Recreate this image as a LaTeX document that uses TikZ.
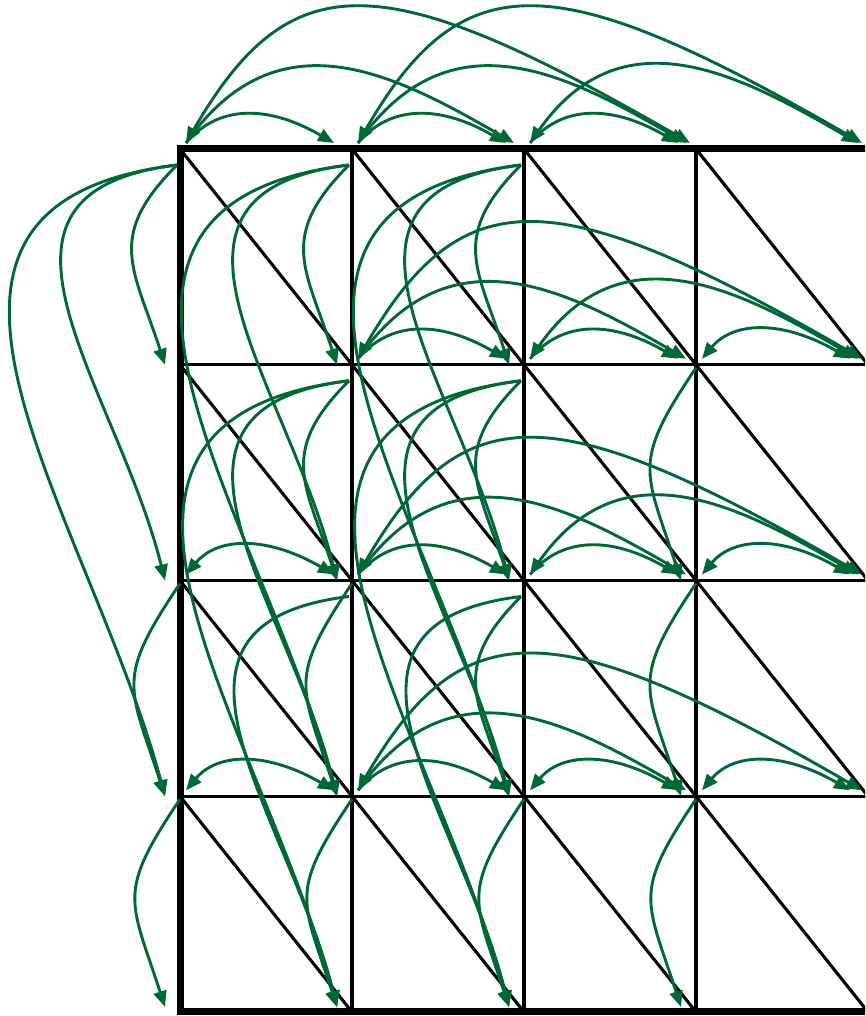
\documentclass[tikz,border=0pt]{standalone}
\usetikzlibrary{arrows.meta}
\definecolor{arrgreen}{RGB}{0,104,55}
\begin{document}
\begin{tikzpicture}[x=1pt,y=1pt,
  gridline/.style={line width=3.1pt, black},
  frameline/.style={line width=7pt, black, line join=miter},
  link/.style={draw=arrgreen, line width=2.9pt, -{Triangle[length=16pt,width=13pt]}},
  twoway/.style={link, {Triangle[length=16pt,width=13pt]}-{Triangle[length=16pt,width=13pt]}},
  hs/.style={out=50,in=150,out looseness=0.85,in looseness=1.35},
  hm/.style={out=55,in=150,out looseness=1.25,in looseness=1.08},
  hl/.style={out=60,in=150,out looseness=1.07,in looseness=1.8},
  vs/.style={out=225,in=108,looseness=1.3},
  vo/.style={out=236,in=108,looseness=1.4},
  vm/.style={out=187,in=104,out looseness=1.4,in looseness=1.25},
  vl/.style={out=187,in=105,out looseness=1.33,in looseness=1.2}]

\path[use as bounding box, clip] (0,0) rectangle (865,1016);

% grid vertices and arrow anchor points
\foreach \c in {0,...,4}{
  \foreach \r in {0,...,4}{
    \coordinate (v-\c-\r) at ({180+172*\c},{867-215.75*\r});
    \coordinate (hs-\c-\r) at ({186+172*\c},{873-215.75*\r});
    \coordinate (hea-\c-\r) at ({162+172*\c},{873-215.75*\r});
    \coordinate (heb-\c-\r) at ({170+172*\c},{873-215.75*\r});
    \coordinate (hec-\c-\r) at ({174+172*\c},{873-215.75*\r});
    \coordinate (vs-\c-\r) at ({177+172*\c},{851-215.75*\r});
    \coordinate (vo-\c-\r) at ({180+172*\c},{864-215.75*\r});
    \coordinate (ve-\c-\r) at ({165+172*\c},{867-215.75*\r});
  }
}
\foreach \c in {0,...,4}{
  \coordinate (ve-\c-4) at ({165+172*\c},{9});
}

% grid
\foreach \r in {1,2,3} \draw[gridline] (v-0-\r) -- (v-4-\r);
\foreach \c in {1,2,3,4} \draw[gridline] (v-\c-0) -- (v-\c-4);
\foreach \c [evaluate=\c as \cn using int(\c+1)] in {0,...,3}{
  \foreach \r [evaluate=\r as \rn using int(\r+1)] in {0,...,3}{
    \draw[gridline] (v-\c-\r) -- (v-\cn-\rn);
  }
}
\draw[frameline] (v-4-0) -- (v-0-0) -- (v-0-4) -- (v-4-4);

% horizontal links, row 0
\draw[link,hs] (hs-0-0) to (hea-1-0);
\draw[link,hm] (hs-0-0) to (heb-2-0);
\draw[twoway,hl] (hs-0-0) to (hec-3-0);
\draw[link,hs] (hs-1-0) to (hea-2-0);
\draw[link,hm] (hs-1-0) to (heb-3-0);
\draw[twoway,hl] (hs-1-0) to (hec-4-0);
\draw[link,hs] (hs-2-0) to (hea-3-0);
\draw[twoway,hm] (hs-2-0) to (heb-4-0);
% row 1
\draw[link,hs] (hs-1-1) to (hea-2-1);
\draw[link,hm] (hs-1-1) to (heb-3-1);
\draw[twoway,hl] (hs-1-1) to (hec-4-1);
\draw[link,hs] (hs-2-1) to (hea-3-1);
\draw[twoway,hm] (hs-2-1) to (heb-4-1);
\draw[twoway,hs] (hs-3-1) to (hea-4-1);
% row 2
\draw[twoway,hs] (hs-0-2) to (hea-1-2);
\draw[link,hs] (hs-1-2) to (hea-2-2);
\draw[link,hm] (hs-1-2) to (heb-3-2);
\draw[twoway,hl] (hs-1-2) to (hec-4-2);
\draw[link,hs] (hs-2-2) to (hea-3-2);
\draw[twoway,hm] (hs-2-2) to (heb-4-2);
\draw[twoway,hs] (hs-3-2) to (hea-4-2);
% row 3
\draw[twoway,hs] (hs-0-3) to (hea-1-3);
\draw[link,hs] (hs-1-3) to (hea-2-3);
\draw[link,hm] (hs-1-3) to (heb-3-3);
\draw[twoway,hl] (hs-1-3) to (hec-4-3);
\draw[twoway,hs] (hs-2-3) to (hea-3-3);
\draw[twoway,hs] (hs-3-3) to (hea-4-3);

% vertical links, column 0
\draw[link,vs] (vs-0-0) to (ve-0-1);
\draw[link,vm] (vs-0-0) to (ve-0-2);
\draw[link,vl] (vs-0-0) to (ve-0-3);
\draw[link,vo] (vo-0-2) to (ve-0-3);
\draw[link,vo] (vo-0-3) to (ve-0-4);
% column 1
\draw[link,vs] (vs-1-0) to (ve-1-1);
\draw[link,vm] (vs-1-0) to (ve-1-2);
\draw[link,vl] (vs-1-0) to (ve-1-3);
\draw[link,vs] (vs-1-1) to (ve-1-2);
\draw[link,vm] (vs-1-1) to (ve-1-3);
\draw[link,vl] (vs-1-1) to (ve-1-4);
\draw[link,vo] (vo-1-2) to (ve-1-3);
\draw[link,vm] (vs-1-2) to (ve-1-4);
\draw[link,vo] (vo-1-3) to (ve-1-4);
% column 2
\draw[link,vs] (vs-2-0) to (ve-2-1);
\draw[link,vm] (vs-2-0) to (ve-2-2);
\draw[link,vl] (vs-2-0) to (ve-2-3);
\draw[link,vs] (vs-2-1) to (ve-2-2);
\draw[link,vm] (vs-2-1) to (ve-2-3);
\draw[link,vl] (vs-2-1) to (ve-2-4);
\draw[link,vs] (vs-2-2) to (ve-2-3);
\draw[link,vm] (vs-2-2) to (ve-2-4);
\draw[link,vo] (vo-2-3) to (ve-2-4);
% column 3
\draw[link,vo] (vo-3-1) to (ve-3-2);
\draw[link,vo] (vo-3-2) to (ve-3-3);
\draw[link,vo] (vo-3-3) to (ve-3-4);
\end{tikzpicture}
\end{document}
